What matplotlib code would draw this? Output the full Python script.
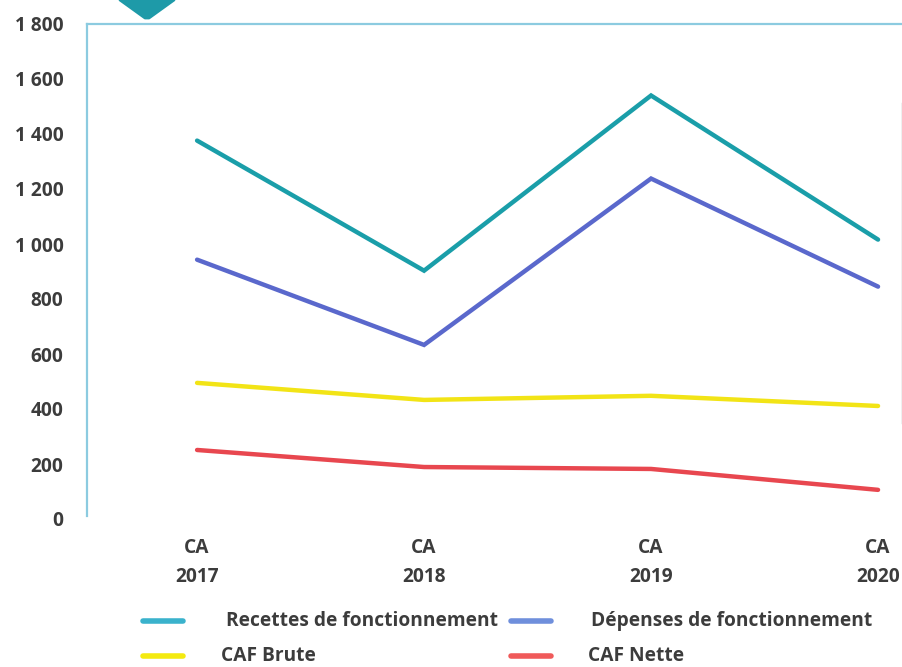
import matplotlib
matplotlib.use("Agg")
import matplotlib.pyplot as plt
from matplotlib.lines import Line2D
from matplotlib.patches import Polygon
from matplotlib.ticker import FuncFormatter

plt.rcParams['font.family'] = ['Open Sans', 'DejaVu Sans']

# Data (milliers d'euros)
categories = ["CA\n2017", "CA\n2018", "CA\n2019", "CA\n2020"]
recettes = [1376, 903, 1540, 1016]
depenses = [943, 633, 1238, 845]
caf_brute = [495, 433, 448, 411]
caf_nette = [251, 189, 182, 106]
y_ticks = [0, 200, 400, 600, 800, 1000, 1200, 1400, 1600, 1800]

series = [
    ("Recettes de fonctionnement", recettes, "#1a9ea9", "#3ab2cc"),
    ("Dépenses de fonctionnement", depenses, "#5a68cc", "#6f8fdc"),
    ("CAF Brute", caf_brute, "#f2e416", "#f4ea10"),
    ("CAF Nette", caf_nette, "#e8474f", "#f05a5a"),
]

W, H = 903, 667
fig = plt.figure(figsize=(W / 100, H / 100), dpi=100)
fig.patch.set_facecolor("white")

# axes box in pixel coordinates
left_px, right_px, top_px, bottom_px = 87, 903, 24, 519
ax = fig.add_axes([left_px / W, 1 - bottom_px / H,
                   (right_px - left_px) / W, (bottom_px - top_px) / H])

x = list(range(len(categories)))
for name, vals, col, _ in series:
    ax.plot(x, vals, color=col, lw=3.2, solid_capstyle="round",
            solid_joinstyle="miter")

ax.set_ylim(0, 1800)
ax.set_xlim(-0.485, 3.11)
ax.set_yticks(y_ticks)
ax.yaxis.set_major_formatter(FuncFormatter(
    lambda v, p: f"{int(v):,}".replace(",", " ")))
ax.set_xticks(x)
ax.set_xticklabels(categories, linespacing=1.6)

text_col = "#3c3c3c"
fs = 13.8
ax.tick_params(axis="both", length=0, labelsize=fs, colors=text_col)
ax.tick_params(axis="y", pad=17)
ax.tick_params(axis="x", pad=14)
for lab in ax.get_xticklabels() + ax.get_yticklabels():
    lab.set_fontweight("bold")

for s in ("right", "bottom"):
    ax.spines[s].set_visible(False)
for s in ("left", "top"):
    ax.spines[s].set_color("#8ccbe0")
    ax.spines[s].set_linewidth(1.6)
ax.spines["left"].set_bounds(12, 1800)

# decorative marker at top
tri = Polygon([(120 / W, 1.0), (174 / W, 1.0), (149 / W, 1 - 18 / H),
               (145 / W, 1 - 18 / H)],
              closed=True, transform=fig.transFigure, facecolor="#1e9aa8",
              edgecolor="#1e9aa8", lw=2, joinstyle="round")
fig.add_artist(tri)

# panel edge on the right
fig.add_artist(Line2D([902 / W, 902 / W], [1 - 103 / H, 1 - 423 / H],
                      transform=fig.transFigure, color="#aab3b6", lw=1.0))

# legend
legend_items = [
    (series[0], 143, 621, 226),
    (series[1], 511, 621, 591),
    (series[2], 143, 656, 221),
    (series[3], 511, 656, 588),
]
for (name, _, _, hcol), hx, hy, tx in legend_items:
    fig.add_artist(Line2D([hx / W, (hx + 40) / W], [1 - hy / H, 1 - hy / H],
                          transform=fig.transFigure, color=hcol, lw=4,
                          solid_capstyle="round"))
    fig.text(tx / W, 1 - hy / H, name, ha="left", va="center",
             fontsize=fs, fontweight="bold", color=text_col)

fig.savefig("out.png", dpi=100, facecolor="white")
